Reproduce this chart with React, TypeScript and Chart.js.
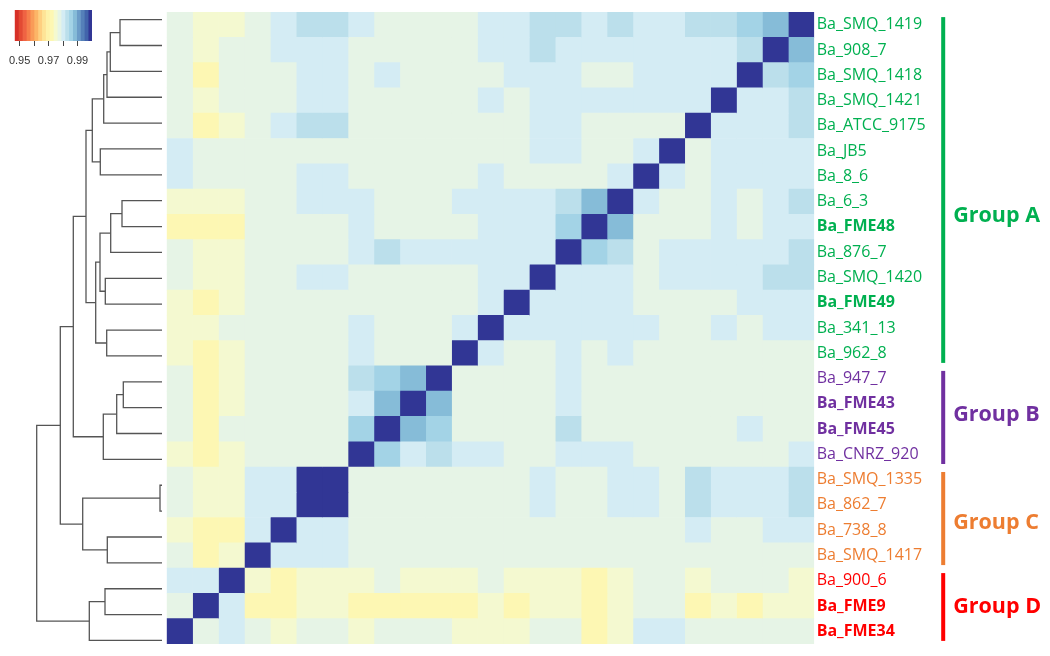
import React, { useEffect, useRef } from 'react';
import { Chart, registerables } from 'chart.js';

Chart.register(...registerables);

// ---------- data ----------
const sampleNames = [
  'Ba_SMQ_1419', 'Ba_908_7', 'Ba_SMQ_1418', 'Ba_SMQ_1421', 'Ba_ATCC_9175',
  'Ba_JB5', 'Ba_8_6', 'Ba_6_3', 'Ba_FME48', 'Ba_876_7',
  'Ba_SMQ_1420', 'Ba_FME49', 'Ba_341_13', 'Ba_962_8', 'Ba_947_7',
  'Ba_FME43', 'Ba_FME45', 'Ba_CNRZ_920', 'Ba_SMQ_1335', 'Ba_862_7',
  'Ba_738_8', 'Ba_SMQ_1417', 'Ba_900_6', 'Ba_FME9', 'Ba_FME34',
];
const boldSamples = ['Ba_FME48', 'Ba_FME49', 'Ba_FME43', 'Ba_FME45', 'Ba_FME9', 'Ba_FME34'];

const groupNames = ['Group A', 'Group B', 'Group C', 'Group D'];
const groupFirstRow = [0, 14, 18, 22];
const groupLastRow = [13, 17, 21, 24];
const groupColors = ['#00b050', '#7030a0', '#ed7d31', '#ff0000'];

// rows: samples top to bottom; columns: samples in reverse order (left to right)
const similarity: number[][] = [
  [.9773, .9747, .9747, .9773, .98, .9826, .9826, .98, .9773, .9773, .9773, .9773, .98, .98, .9826, .9826, .98, .9826, .98, .98, .9826, .9826, .9853, .988, 1],
  [.9773, .9747, .9773, .9773, .98, .98, .98, .9773, .9773, .9773, .9773, .9773, .98, .98, .9826, .98, .98, .98, .98, .98, .98, .98, .9826, 1, .988],
  [.9773, .972, .9773, .9773, .9773, .98, .98, .9773, .98, .9773, .9773, .9773, .9773, .98, .98, .98, .9773, .9773, .98, .98, .98, .98, 1, .9826, .9853],
  [.9773, .9747, .9773, .9773, .9773, .98, .98, .9773, .9773, .9773, .9773, .9773, .98, .9773, .98, .98, .98, .98, .98, .98, .98, 1, .98, .98, .9826],
  [.9773, .972, .9747, .9773, .98, .9826, .9826, .9773, .9773, .9773, .9773, .9773, .9773, .9773, .98, .98, .9773, .9773, .9773, .9773, 1, .98, .98, .98, .9826],
  [.98, .9773, .9773, .9773, .9773, .9773, .9773, .9773, .9773, .9773, .9773, .9773, .9773, .9773, .98, .98, .9773, .9773, .98, 1, .9773, .98, .98, .98, .98],
  [.98, .9773, .9773, .9773, .9773, .98, .98, .9773, .9773, .9773, .9773, .9773, .98, .9773, .9773, .9773, .9773, .98, 1, .98, .9773, .98, .98, .98, .98],
  [.9747, .9747, .9747, .9773, .9773, .98, .98, .98, .9773, .9773, .9773, .98, .98, .98, .98, .9826, .988, 1, .98, .9773, .9773, .98, .9773, .98, .9826],
  [.972, .972, .972, .9773, .9773, .9773, .9773, .98, .9773, .9773, .9773, .9773, .98, .98, .98, .9853, 1, .988, .9773, .9773, .9773, .98, .9773, .98, .98],
  [.9773, .9747, .9747, .9773, .9773, .9773, .9773, .98, .9826, .98, .98, .98, .98, .98, .98, 1, .9853, .9826, .9773, .98, .98, .98, .98, .98, .9826],
  [.9773, .9747, .9747, .9773, .9773, .98, .98, .9773, .9773, .9773, .9773, .9773, .98, .98, 1, .98, .98, .98, .9773, .98, .98, .98, .98, .9826, .9826],
  [.9747, .972, .9747, .9773, .9773, .9773, .9773, .9773, .9773, .9773, .9773, .9773, .98, 1, .98, .98, .98, .98, .9773, .9773, .9773, .9773, .98, .98, .98],
  [.9747, .9747, .9773, .9773, .9773, .9773, .9773, .98, .9773, .9773, .9773, .98, 1, .98, .98, .98, .98, .98, .98, .9773, .9773, .98, .9773, .98, .98],
  [.9747, .972, .9747, .9773, .9773, .9773, .9773, .98, .9773, .9773, .9773, 1, .98, .9773, .9773, .98, .9773, .98, .9773, .9773, .9773, .9773, .9773, .9773, .9773],
  [.9773, .972, .9747, .9773, .9773, .9773, .9773, .9826, .9853, .988, 1, .9773, .9773, .9773, .9773, .98, .9773, .9773, .9773, .9773, .9773, .9773, .9773, .9773, .9773],
  [.9773, .972, .9747, .9773, .9773, .9773, .9773, .98, .988, 1, .988, .9773, .9773, .9773, .9773, .98, .9773, .9773, .9773, .9773, .9773, .9773, .9773, .9773, .9773],
  [.9773, .972, .9773, .9773, .9773, .9773, .9773, .9853, 1, .988, .9853, .9773, .9773, .9773, .9773, .9826, .9773, .9773, .9773, .9773, .9773, .9773, .98, .9773, .9773],
  [.9747, .972, .9747, .9773, .9773, .9773, .9773, 1, .9853, .98, .9826, .98, .98, .9773, .9773, .98, .98, .98, .9773, .9773, .9773, .9773, .9773, .9773, .98],
  [.9773, .9747, .9747, .98, .98, 1, 1, .9773, .9773, .9773, .9773, .9773, .9773, .9773, .98, .9773, .9773, .98, .98, .9773, .9826, .98, .98, .98, .9826],
  [.9773, .9747, .9747, .98, .98, 1, 1, .9773, .9773, .9773, .9773, .9773, .9773, .9773, .98, .9773, .9773, .98, .98, .9773, .9826, .98, .98, .98, .9826],
  [.9747, .972, .972, .98, 1, .98, .98, .9773, .9773, .9773, .9773, .9773, .9773, .9773, .9773, .9773, .9773, .9773, .9773, .9773, .98, .9773, .9773, .98, .98],
  [.9773, .972, .9747, 1, .98, .98, .98, .9773, .9773, .9773, .9773, .9773, .9773, .9773, .9773, .9773, .9773, .9773, .9773, .9773, .9773, .9773, .9773, .9773, .9773],
  [.98, .98, 1, .9747, .972, .9747, .9747, .9747, .9773, .9747, .9747, .9747, .9773, .9747, .9747, .9747, .972, .9747, .9773, .9773, .9747, .9773, .9773, .9773, .9747],
  [.9773, 1, .98, .972, .972, .9747, .9747, .972, .972, .972, .972, .972, .9747, .972, .9747, .9747, .972, .9747, .9773, .9773, .972, .9747, .972, .9747, .9747],
  [1, .9773, .98, .9773, .9747, .9773, .9773, .9747, .9773, .9773, .9773, .9747, .9747, .9747, .9773, .9773, .972, .9747, .98, .98, .9773, .9773, .9773, .9773, .9773],
];

// hierarchical clustering (hclust style: negative = leaf, positive = earlier merge)
const mergeLeft = [-1, 1, 2, 3, -6, 4, -8, 7, -11, 8, -13, 10, 6, -15, 14, 15, 13, -19, -21, 18, 17, -23, 22, 21];
const mergeRight = [-2, -3, -4, -5, -7, 5, -9, -10, -12, 9, -14, 11, 12, -16, -17, -18, 16, -20, -22, 19, 20, -24, -25, 23];
const mergeHeight = [0.042, 0.0517, 0.055, 0.0583, 0.0617, 0.0697, 0.040, 0.0513, 0.0567, 0.062, 0.0553, 0.0663, 0.076,
  0.0387, 0.0453, 0.0587, 0.0887, 0.002, 0.0547, 0.0793, 0.1017, 0.057, 0.0727, 0.1253];

// colour key
const scaleMin = 0.9466;
const scaleMax = 1.0;
const scaleColors = [
  '#d73027', '#e34a33', '#ef6343', '#f67e4b', '#f99b58', '#fcb567', '#fecf80', '#fee496', '#fef2a9', '#fdf7b3',
  '#f4f9d0', '#e6f4e6', '#d4ecf4', '#bbdfeb', '#a3d3e6', '#86bcd8', '#6b9cc8', '#5580b9', '#4264ab', '#313695',
];
const legendTicks = [0.95, 0.96, 0.97, 0.98, 0.99];
const legendLabeled = [0.95, 0.97, 0.99];

// ---------- helpers ----------
function colorFor(v: number): string {
  const step = (scaleMax - scaleMin) / scaleColors.length;
  let k = Math.floor((v - scaleMin) / step);
  k = Math.max(0, Math.min(scaleColors.length - 1, k));
  return scaleColors[k];
}
function groupOfRow(r: number): number {
  for (let g = 0; g < groupFirstRow.length; g++) {
    if (r >= groupFirstRow[g] && r <= groupLastRow[g]) return g;
  }
  return 0;
}
const groupLabelAnchor = [7.55, 15.45, 19.7, 23.05];

export default function App() {
  const dendroRef = useRef<HTMLCanvasElement>(null);
  const heatRef = useRef<HTMLCanvasElement>(null);
  const legendRef = useRef<HTMLCanvasElement>(null);

  useEffect(() => {
    const charts: Chart[] = [];

    // ---------- dendrogram ----------
    const nodeY: number[] = [];
    const nodeH: number[] = [];
    const pos = (ref: number) => (ref < 0 ? { y: -ref - 1, h: 0 } : { y: nodeY[ref - 1], h: nodeH[ref - 1] });
    const dendroSets = mergeLeft.map((l, i) => {
      const a = pos(l);
      const b = pos(mergeRight[i]);
      const h = mergeHeight[i];
      nodeY[i] = (a.y + b.y) / 2;
      nodeH[i] = h;
      return {
        data: [
          { x: a.h, y: a.y },
          { x: h, y: a.y },
          { x: h, y: b.y },
          { x: b.h, y: b.y },
        ],
        showLine: true,
        borderColor: '#555555',
        borderWidth: 1.3,
        pointRadius: 0,
        fill: false,
        tension: 0,
      };
    });
    charts.push(
      new Chart(dendroRef.current!, {
        type: 'scatter',
        data: { datasets: dendroSets as any },
        options: {
          responsive: false,
          animation: false,
          layout: { padding: { left: 0, right: 4, top: 6.7, bottom: 2.6 } },
          plugins: { legend: { display: false }, tooltip: { enabled: false } },
          scales: {
            x: { type: 'linear', min: 0, max: 0.162, reverse: true, display: false },
            y: { type: 'linear', min: -0.5, max: 24.5, reverse: true, display: false },
          },
        },
      })
    );

    // ---------- heatmap ----------
    const nCols = similarity[0].length;
    const heatSets = Array.from({ length: nCols }, (_, c) => ({
      label: sampleNames[nCols - 1 - c],
      data: sampleNames.map(() => 1),
      backgroundColor: sampleNames.map((_, r) => colorFor(similarity[r][c])),
      borderWidth: 0,
      barPercentage: 1,
      categoryPercentage: 1,
    }));
    const groupPlugin = {
      id: 'groups',
      afterDraw(chart: any) {
        const { ctx, chartArea } = chart;
        const y = chart.scales.y;
        const half = (y.getPixelForValue(1) - y.getPixelForValue(0)) / 2;
        ctx.save();
        groupNames.forEach((name, g) => {
          const top = y.getPixelForValue(groupFirstRow[g]) - half + 5;
          const bottom = y.getPixelForValue(groupLastRow[g]) + half - 3;
          ctx.fillStyle = groupColors[g];
          ctx.fillRect(chartArea.right + 127, top, 4, bottom - top);
          ctx.font = 'bold 21.5px "Open Sans"';
          ctx.textAlign = 'left';
          ctx.textBaseline = 'middle';
          ctx.fillText(name, chartArea.right + 139, y.getPixelForValue(groupLabelAnchor[g]));
        });
        ctx.restore();
      },
    };
    charts.push(
      new Chart(heatRef.current!, {
        type: 'bar',
        data: { labels: sampleNames, datasets: heatSets as any },
        options: {
          indexAxis: 'y',
          responsive: false,
          animation: false,
          layout: { padding: { left: 6.7, right: 0, top: 6.7, bottom: 2.6 } },
          plugins: { legend: { display: false }, tooltip: { enabled: false } },
          scales: {
            x: { stacked: true, min: 0, max: nCols, display: false },
            y: {
              stacked: true,
              position: 'right',
              grid: { display: false, drawTicks: false },
              border: { display: false },
              ticks: {
                autoSkip: false,
                padding: 2.5,
                color: (ctx: any) => groupColors[groupOfRow(ctx.index)],
                font: (ctx: any) => ({
                  family: '"Open Sans"',
                  size: 16,
                  weight: boldSamples.includes(sampleNames[ctx.index]) ? 'bold' : 'normal',
                }),
              },
              afterFit: (s: any) => {
                s.width = 235.8;
              },
            },
          },
        } as any,
        plugins: [groupPlugin],
      })
    );

    // ---------- colour key ----------
    const step = (scaleMax - scaleMin) / scaleColors.length;
    const legendSets = scaleColors.map((col, k) => ({
      data: [[scaleMin + k * step, scaleMin + (k + 1) * step]],
      backgroundColor: col,
      borderWidth: 0,
      grouped: false,
      barPercentage: 1,
      categoryPercentage: 1,
    }));
    charts.push(
      new Chart(legendRef.current!, {
        type: 'bar',
        data: { labels: ['key'], datasets: legendSets as any },
        options: {
          indexAxis: 'y',
          responsive: false,
          animation: false,
          layout: { padding: { left: 14, right: 18, top: 10, bottom: 4 } },
          plugins: { legend: { display: false }, tooltip: { enabled: false } },
          scales: {
            y: { display: false },
            x: {
              type: 'linear',
              min: scaleMin,
              max: scaleMax,
              position: 'bottom',
              border: { display: false },
              grid: { drawOnChartArea: false, drawTicks: true, tickLength: 5, color: '#444444', lineWidth: 1 },
              ticks: {
                autoSkip: false,
                maxRotation: 0,
                padding: 8,
                color: '#333333',
                font: { family: '"Liberation Sans"', size: 11 },
                callback: (v: any) => (legendLabeled.includes(Number(v)) ? Number(v).toFixed(2) : ''),
              },
              afterBuildTicks: (s: any) => {
                s.ticks = legendTicks.map((v) => ({ value: v }));
              },
              afterFit: (s: any) => {
                s.height = 30;
              },
            },
          },
        } as any,
      })
    );

    return () => charts.forEach((c) => c.destroy());
  }, []);

  return (
    <div style={{ position: 'absolute', left: 0, top: 0, width: 1050, height: 656, background: '#ffffff' }}>
      <canvas ref={dendroRef} width={166} height={656} style={{ position: 'absolute', left: 0, top: 0 }} />
      <canvas ref={heatRef} width={890} height={656} style={{ position: 'absolute', left: 160, top: 0 }} />
      <canvas ref={legendRef} width={110} height={75} style={{ position: 'absolute', left: 0, top: 0 }} />
    </div>
  );
}
